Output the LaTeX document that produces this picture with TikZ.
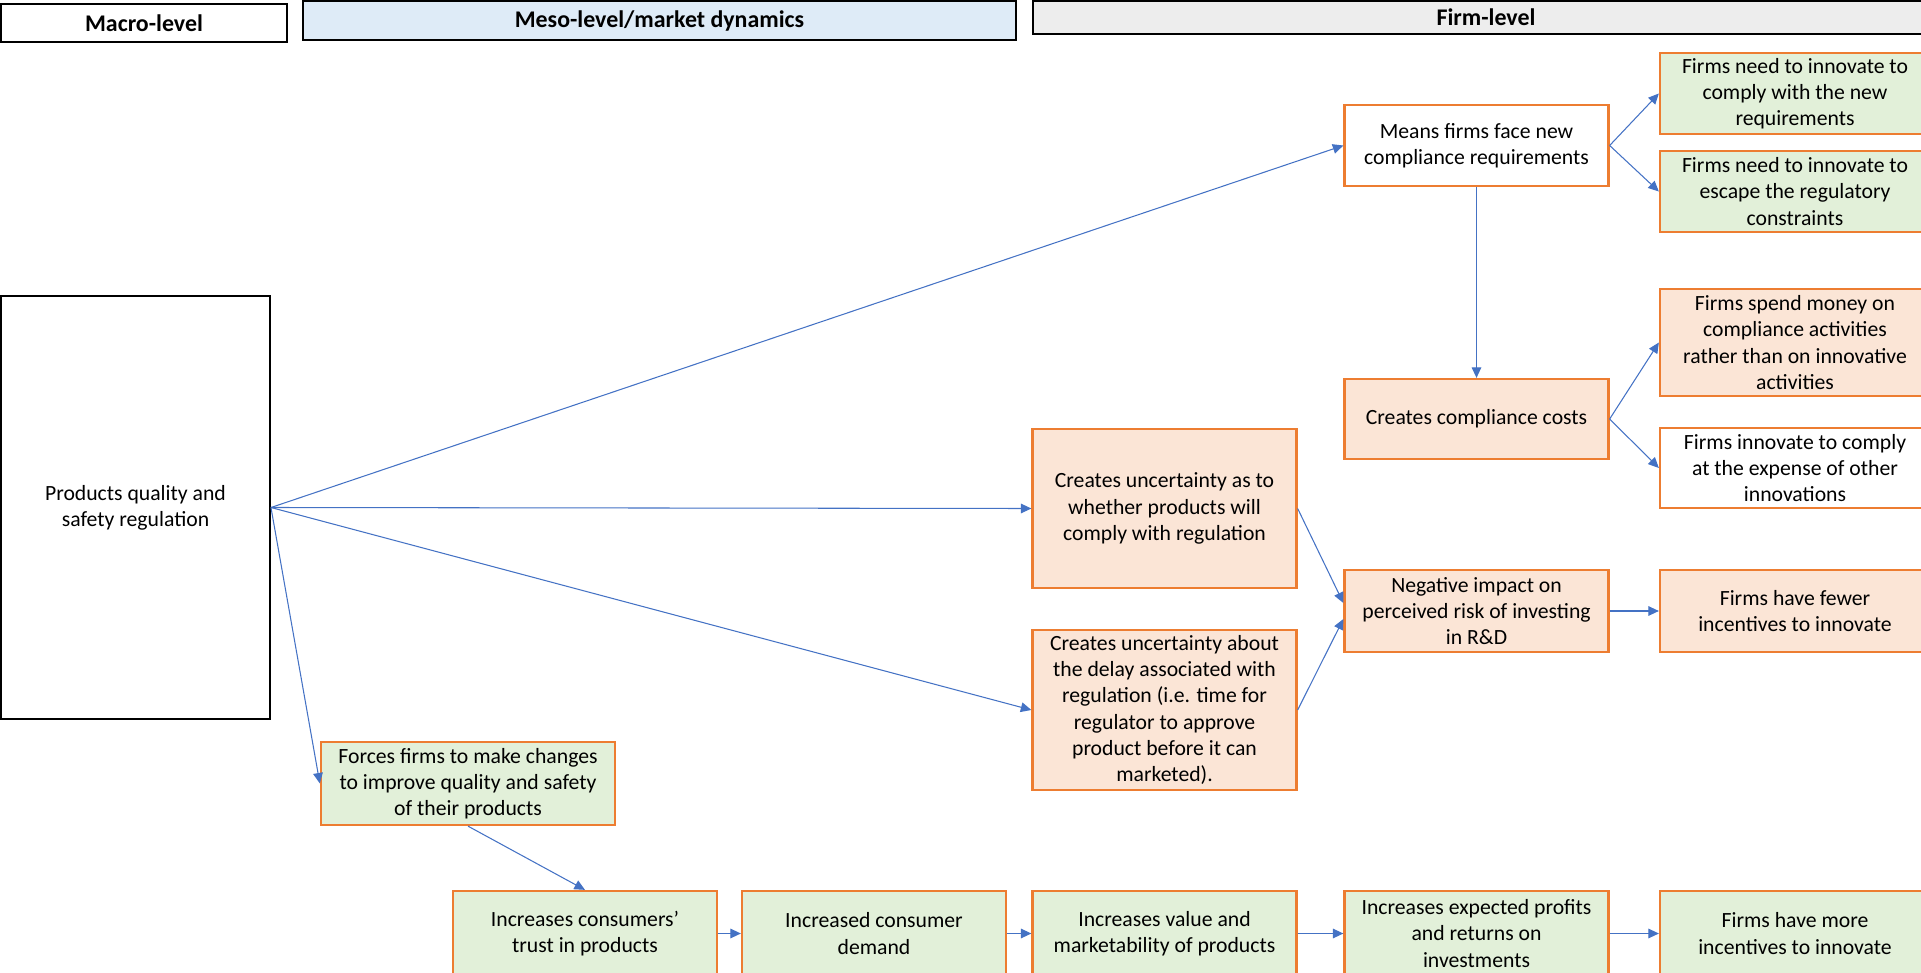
\documentclass[tikz,border=0pt]{standalone}
\usepackage{fontspec}
\setmainfont{Carlito}
\usetikzlibrary{arrows.meta}
\definecolor{hdblue}{HTML}{DEEBF7}
\definecolor{hdgrey}{HTML}{EDEDED}
\definecolor{orline}{HTML}{ED7D31}
\definecolor{orfill}{HTML}{FBE5D6}
\definecolor{grfill}{HTML}{E2F0D9}
\definecolor{arblue}{HTML}{4472C4}
\begin{document}
\begin{tikzpicture}[every node/.style={font=\fontsize{12.35}{14.9}\selectfont},
head/.style={draw,line width=1.4pt,inner sep=0pt,font=\bfseries\fontsize{13.6}{16}\selectfont},
box/.style={draw=orline,line width=1.3pt,align=center,minimum width=5.28cm,inner sep=2pt},
grbox/.style={box,fill=grfill},orbox/.style={box,fill=orfill},
link/.style={draw=arblue,line width=0.6pt,-{Triangle[length=6pt,width=5.5pt]}}]
\useasboundingbox (0,0) rectangle (38.42,-19.46);
\node[head,minimum width=5.72cm,minimum height=0.76cm] (macrohd) at (2.88,-0.46){Macro-level};
\node[head,fill=hdblue,minimum width=14.26cm,minimum height=0.78cm] (mesohd) at (13.19,-0.41){Meso-level/market dynamics};
\node[head,fill=hdgrey,minimum width=18.12cm,minimum height=0.66cm] (firmhd) at (29.72,-0.35){Firm-level};
\node[draw,line width=1.1pt,align=center,minimum width=5.38cm,minimum height=8.46cm] (prod) at (2.71,-10.15){Products quality and\\safety regulation};
\node[box,minimum height=1.62cm] (means) at (29.53,-2.91){Means firms face new\\compliance requirements};
\node[grbox,minimum width=5.4cm,minimum height=1.62cm] (comply) at (35.9,-1.87){Firms need to innovate to\\comply with the new\\requirements};
\node[grbox,minimum width=5.4cm,minimum height=1.62cm] (escape) at (35.9,-3.83){Firms need to innovate to\\escape the regulatory\\constraints};
\node[orbox,minimum width=5.4cm,minimum height=2.14cm] (spend) at (35.9,-6.85){Firms spend money on\\compliance activities\\rather than on innovative\\activities};
\node[box,minimum width=5.4cm,minimum height=1.6cm] (expense) at (35.9,-9.36){Firms innovate to comply\\at the expense of other\\innovations};
\node[orbox,minimum height=1.6cm] (costs) at (29.53,-8.38){Creates compliance costs};
\node[orbox,minimum height=3.18cm] (uncert) at (23.29,-10.17){Creates uncertainty as to\\whether products will\\comply with regulation};
\node[orbox,minimum height=1.64cm] (negative) at (29.53,-12.22){Negative impact on\\perceived risk of investing\\in R\&D};
\node[orbox,minimum width=5.4cm,minimum height=1.64cm] (fewer) at (35.9,-12.22){Firms have fewer\\incentives to innovate};
\node[orbox,minimum height=3.2cm] (delay) at (23.29,-14.2){Creates uncertainty about\\the delay associated with\\regulation (i.e. time for\\regulator to approve\\product before it can\\marketed).};
\node[grbox,minimum width=5.88cm,minimum height=1.66cm] (forces) at (9.36,-15.67){Forces firms to make changes\\to improve quality and safety\\of their products};
\node[grbox,minimum height=1.7cm] (trust) at (11.7,-18.67){Increases consumers’\\trust in products};
\node[grbox,minimum height=1.7cm] (demand) at (17.48,-18.67){Increased consumer\\demand};
\node[grbox,minimum height=1.7cm] (value) at (23.29,-18.67){Increases value and\\marketability of products};
\node[grbox,minimum height=1.7cm] (profits) at (29.53,-18.67){Increases expected profits\\and returns on\\investments};
\node[grbox,minimum width=5.4cm,minimum height=1.7cm] (more) at (35.9,-18.67){Firms have more\\incentives to innovate};
\draw[link] (prod.east)--(means.west);\draw[link] (prod.east)--(uncert.west);\draw[link] (prod.east)--(delay.west);\draw[link] (prod.east)--(forces.west);
\draw[link] (means.south)--(costs.north);\draw[link] (means.east)--(comply.west);\draw[link] (means.east)--(escape.west);
\draw[link] (costs.east)--(spend.west);\draw[link] (costs.east)--(expense.west);
\draw[link] (uncert.east)--([yshift=0.16cm]negative.west);\draw[link] (delay.east)--([yshift=-0.16cm]negative.west);
\draw[link] (negative)--(fewer);\draw[link] (forces.south)--(trust.north);
\draw[link] (trust)--(demand);\draw[link] (demand)--(value);\draw[link] (value)--(profits);\draw[link] (profits)--(more);
\end{tikzpicture}
\end{document}
